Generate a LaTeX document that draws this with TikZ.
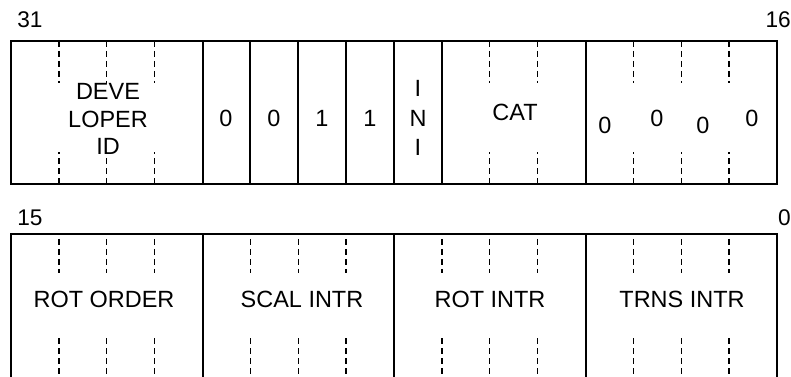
\documentclass[tikz,border=0pt]{standalone}
\usepackage{fontspec}
\setmainfont{Liberation Sans}
\usetikzlibrary{positioning}

\newcommand{\bitw}{35.906pt}

\begin{document}
\begin{tikzpicture}[x=0.75pt,y=-0.75pt,
    field/.style={draw,line width=1.5pt,outer sep=0pt,inner sep=0pt,
                  minimum height=107.25pt},
    lower/.style={field,minimum height=150pt},
    lbl/.style={font=\fontsize{17.6}{20.6}\selectfont,align=center,inner sep=0pt},
    bitno/.style={font=\fontsize{17}{19}\selectfont,inner sep=0pt},
    tick/.style={line width=1pt,dash pattern=on 4.5pt off 3pt},
  ]
  \clip (0,0) rectangle (791,377);

  % upper half-word, bits 31..16
  \node[field,anchor=north west,minimum width=4*\bitw] (dev) at (11,41) {};
  \node[field,minimum width=\bitw,right=0pt of dev] (b27) {};
  \node[field,minimum width=\bitw,right=0pt of b27] (b26) {};
  \node[field,minimum width=\bitw,right=0pt of b26] (b25) {};
  \node[field,minimum width=\bitw,right=0pt of b25] (b24) {};
  \node[field,minimum width=\bitw,right=0pt of b24] (ini) {};
  \node[field,minimum width=3*\bitw,right=0pt of ini] (cat) {};
  \node[field,minimum width=4*\bitw,right=0pt of cat] (zer) {};

  % lower half-word, bits 15..0
  \node[lower,anchor=north west,minimum width=4*\bitw] (rord) at (11,234) {};
  \node[lower,minimum width=4*\bitw,right=0pt of rord] (scal) {};
  \node[lower,minimum width=4*\bitw,right=0pt of scal] (rint) {};
  \node[lower,minimum width=4*\bitw,right=0pt of rint] (tint) {};

  % bit ticks
  \foreach \f/\n in {dev/3,cat/2,zer/3} {
    \foreach \k in {1,...,\n} {
      \draw[tick] ([xshift=\k*\bitw]\f.north west) -- ++(0,42);
      \draw[tick] ([xshift=\k*\bitw]\f.south west) -- ++(0,-32);
    }
  }
  \foreach \f in {rord,scal,rint,tint} {
    \foreach \k in {1,2,3} {
      \draw[tick] ([xshift=\k*\bitw]\f.north west) ++(0,5) -- ++(0,34);
      \draw[tick] ([xshift=\k*\bitw]\f.north west) ++(0,104) -- ++(0,40);
    }
  }

  % bit numbers
  \node[bitno] (n31) at (30,20) {31};
  \node[bitno,anchor=east] (n16) at (791,20) {16};
  \node[bitno] (n15) at (30,218) {15};
  \node[bitno,anchor=east] (n0) at (791,218) {0};

  % field labels
  \node[lbl] (devl) at (108,119) {DEVE\\LOPER\\ID};
  \node[lbl] (l27) at (226,118) {0};
  \node[lbl] (l26) at (274,118) {0};
  \node[lbl] (l25) at (322,118) {1};
  \node[lbl] (l24) at (370,118) {1};
  \node[lbl,font=\fontsize{17.6}{22}\selectfont] (inil) at (418,118) {I\\N\\I};
  \node[lbl] (catl) at (515,112) {CAT};
  \node[lbl] (z3) at (605,125) {0};
  \node[lbl] (z2) at (657,118) {0};
  \node[lbl] (z1) at (703,125) {0};
  \node[lbl] (z0) at (752,118) {0};
  \node[lbl] (rordl) at (104,299) {ROT ORDER};
  \node[lbl] (scall) at (302,299) {SCAL INTR};
  \node[lbl] (rintl) at (490,299) {ROT INTR};
  \node[lbl] (tintl) at (682,299) {TRNS INTR};
\end{tikzpicture}
\end{document}
